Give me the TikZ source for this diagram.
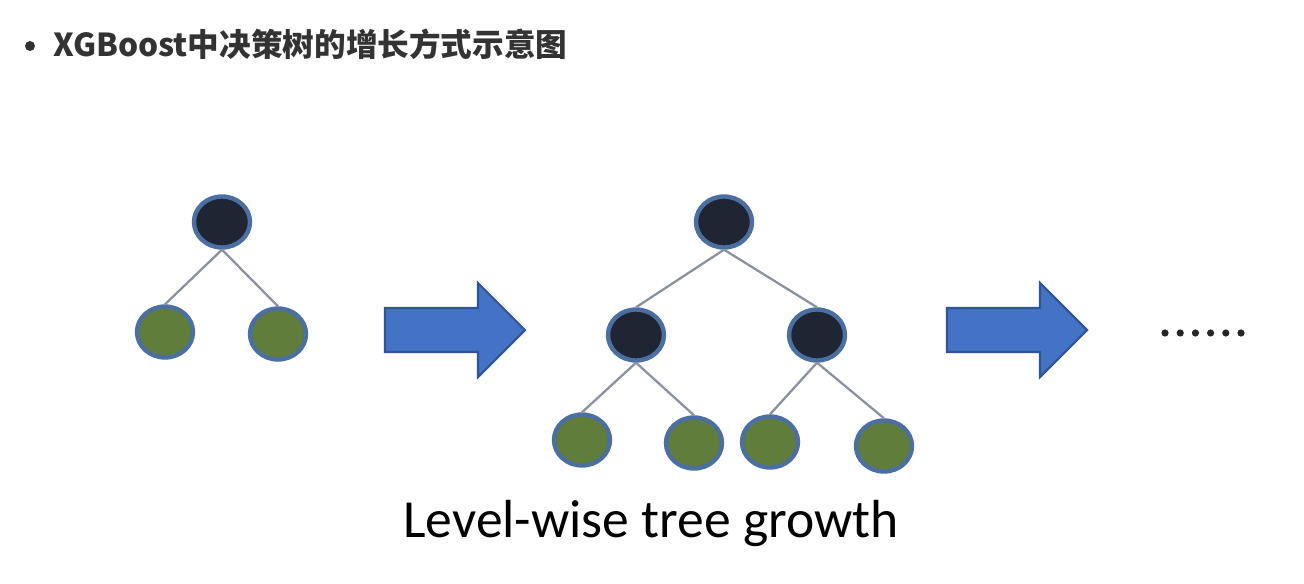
\documentclass[tikz,border=0pt]{standalone}
\usepackage{fontspec}
\setmainfont{Carlito}
\newfontfamily\cjk{Noto Sans CJK SC}
\usetikzlibrary{shapes.geometric, math}
\definecolor{nodedark}{RGB}{31,37,51}
\definecolor{nodegreen}{RGB}{96,125,59}
\definecolor{nodeedge}{RGB}{74,111,160}
\definecolor{linkgray}{RGB}{140,145,160}
\definecolor{arrowblue}{RGB}{68,114,196}
\definecolor{arrowedge}{RGB}{47,85,151}
\definecolor{titlegray}{RGB}{51,51,51}

\tikzset{
  inner/.style={ellipse, draw=nodeedge, line width=2.5pt, fill=nodedark, minimum width=1.12cm, minimum height=1.02cm, inner sep=0},
  leaf/.style={inner, fill=nodegreen},
  link/.style={draw=linkgray, line width=1.3pt},
}

\begin{document}
\begin{tikzpicture}[x=0.02cm, y=-0.02cm]
\tikzmath{
\bodyh=22;
\headh=47;
\alen=140;
\hlen=47;
}
\useasboundingbox (0,0) rectangle (1304,584);

% title
\fill[titlegray] (30,46) circle (5);
\node[anchor=base west, text=titlegray, font=\cjk\bfseries\fontsize{18}{21}\selectfont, inner sep=0] (title) at (53,57) {XGBoost中决策树的增长方式示意图};

% first tree
\node[inner] (a) at (222,222) {};
\node[leaf] (al) at (165,332) {};
\node[leaf] (ar) at (278,334) {};
\draw[link] (a.south) -- (al.north);
\draw[link] (a.south) -- (ar.north);

% second tree
\node[inner] (b) at (724,222) {};
\node[inner] (bl) at (636,335) {};
\node[inner] (br) at (817,335) {};
\node[leaf] (bll) at (582,440) {};
\node[leaf] (blr) at (694,443) {};
\node[leaf] (brl) at (770,442) {};
\node[leaf] (brr) at (884,446) {};
\draw[link] (b.south) -- (bl.north);
\draw[link] (b.south) -- (br.north);
\draw[link] (bl.south) -- (bll.north);
\draw[link] (bl.south) -- (blr.north);
\draw[link] (br.south) -- (brl.north);
\draw[link] (br.south) -- (brr.north);

% block arrows
\foreach \ax in {385,947}{
  \filldraw[fill=arrowblue, draw=arrowedge, line width=1.2pt, line join=miter]
    (\ax,330-\bodyh) -- +(\alen-\hlen,0) -- (\ax+\alen-\hlen,330-\headh)
    -- (\ax+\alen,330) -- (\ax+\alen-\hlen,330+\headh)
    -- (\ax+\alen-\hlen,330+\bodyh) -- (\ax,330+\bodyh) -- cycle;
}

% dots
\foreach \dx in {0,...,5}
  \fill[black!85] (1165+15.2*\dx,333) circle (3.6);

\node[anchor=base, font=\fontsize{30.5}{34}\selectfont, inner sep=0] (caption) at (651,537) {Level-wise tree growth};
\end{tikzpicture}
\end{document}
